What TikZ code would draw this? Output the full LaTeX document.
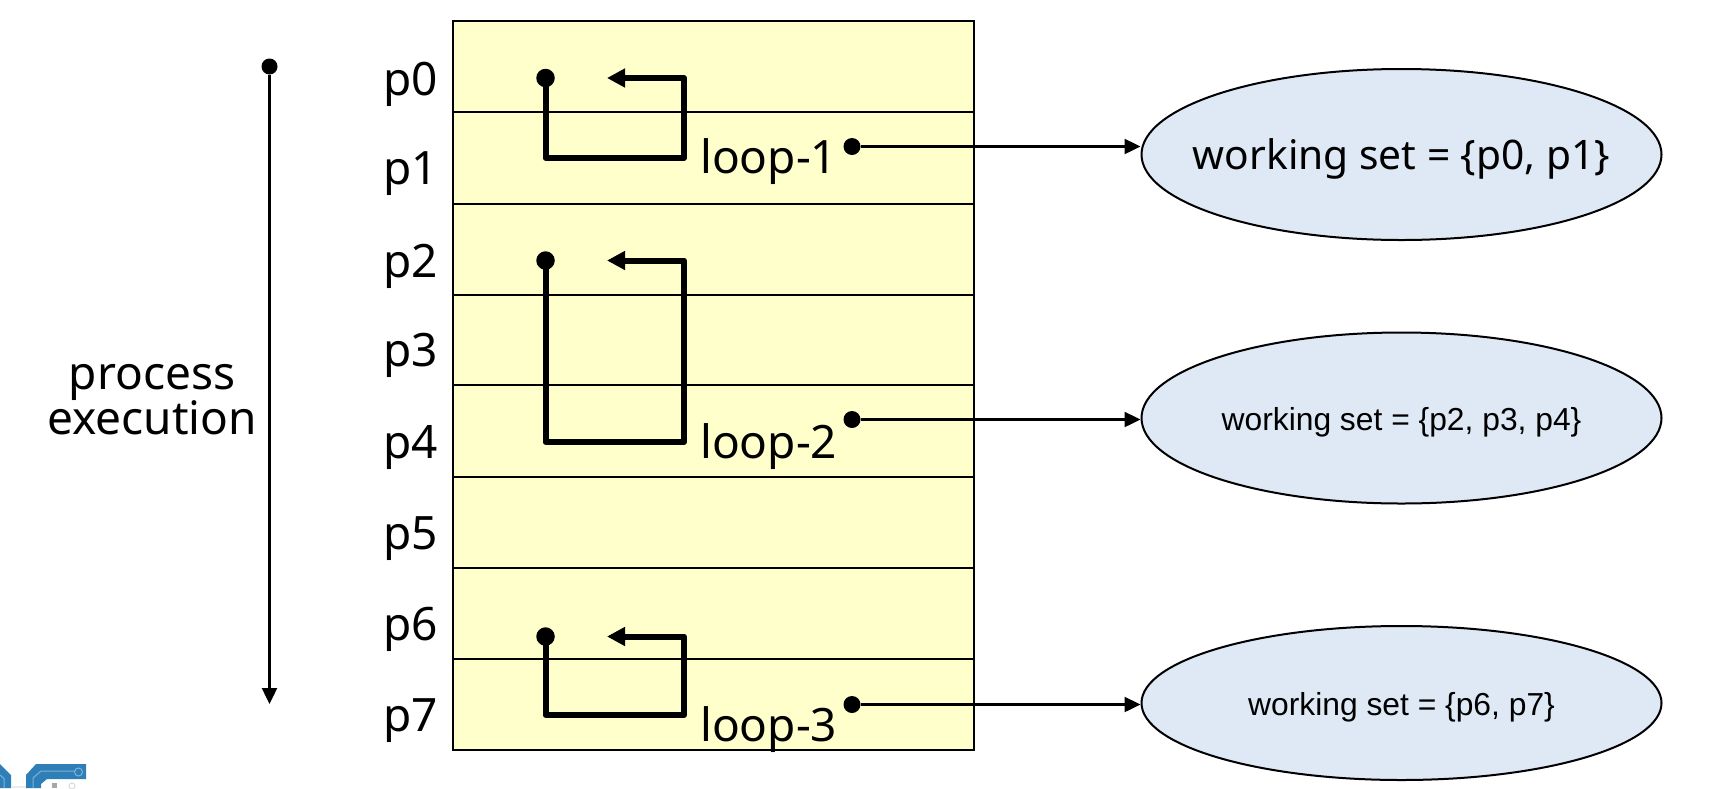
\documentclass[tikz,border=0pt]{standalone}
\usepackage{fontspec}
\setmainfont{Noto Sans}
\newfontfamily\smallfont{Liberation Sans}
\usetikzlibrary{shapes.geometric,arrows.meta}
\definecolor{memfill}{HTML}{FFFFCC}
\definecolor{setfill}{HTML}{DEE9F5}
\definecolor{logoblue}{HTML}{2E7FB8}
\definecolor{logoline}{HTML}{7FB2D8}
\tikzset{
  big/.style={font=\fontsize{46}{46}\selectfont,inner sep=0pt,anchor=base west},
  rowline/.style={line width=2pt,black},
  loopline/.style={line width=6pt,line join=round,-{Triangle[length=18pt,width=18pt]}},
  thin arrow/.style={line width=2.4pt,-{Triangle[length=16pt,width=15pt]}},
  dot/.style={circle,fill=black,inner sep=0pt,minimum size=18.5pt},
  wset/.style={ellipse,draw=black,line width=2pt,fill=setfill,inner sep=0pt,minimum width=520pt,text=black},
}
\newcommand{\wtext}[1]{\makebox[0pt]{#1}}
\begin{document}
\begin{tikzpicture}[x=1pt,y=-1pt]
\useasboundingbox (0,0) rectangle (1711,788);
% logo fragment
\fill[logoblue] (0,764) -- (11,775) -- (11,788) -- (0,788) -- cycle;
\draw[logoline,line width=1pt] (0,775) -- (4,778.5) -- (4,788);
\fill[black!8] (11,786) rectangle (26,788);
\fill[logoblue] (26,788) -- (26,775) -- (36,764) -- (86,764) -- (86,779) -- (47,779) -- (41,784) -- (41,788) -- cycle;
\draw[logoline,line width=1pt] (33,788) -- (33,778) -- (41,771) -- (75,771);
\draw[logoline,line width=1pt] (78.5,772) circle (4);
\fill[black!35] (52,783) rectangle (57,788);
\draw[black!15,line width=1pt] (72,786) circle (3);
% memory
\draw[rowline,fill=memfill] (453,21) rectangle (974,750);
\foreach \y in {112,204,294.5,385,477,567.5,659} \draw[rowline] (453,\y) -- (974,\y);
% row labels
\foreach \n/\y in {0/95,1/184,2/277,3/366,4/458,5/549,6/640,7/731}
  \node[big] (p\n) at (383,\y) {p\n};
% execution arrow
\node[dot,minimum size=16pt] (start) at (269.5,66.5) {};
\coordinate (end) at (269.5,704);
\draw[thin arrow] (start) -- (end);
\node[font=\fontsize{46}{45}\selectfont,align=center,inner sep=0pt] (pe) at (152,399.5) {process\\execution};
% loops
\foreach \n/\t/\b in {a/78/158,b/260.5/442,c/636.5/715}{
  \node[dot] (\n s) at (545.5,\t) {};
  \coordinate (\n e) at (607,\t);
  \draw[loopline] (\n s.center) -- (545.5,\b) -- (684,\b) -- (684,\t) -- (\n e);
}
\node[big] (l1) at (700,173) {loop-1};
\node[big] (l2) at (700,458) {loop-2};
\node[big] (l3) at (700,741) {loop-3};
% working sets
\node[wset,minimum height=171pt,font=\fontsize{40.7}{41}\selectfont,text height=30pt,text depth=0.2pt] (w1) at (1401.5,154.5) {\wtext{working set = \{p0, p1\}}};
\node[wset,minimum height=171pt,font=\smallfont\fontsize{31.8}{32}\selectfont,text height=25.2pt,text depth=0pt] (w2) at (1401.5,418) {\wtext{working set = \{p2, p3, p4\}}};
\node[wset,minimum height=154pt,font=\smallfont\fontsize{31.8}{32}\selectfont,text height=25.2pt,text depth=0pt] (w3) at (1401.5,703) {\wtext{working set = \{p6, p7\}}};
\node[dot,minimum size=17pt] (d1) at (852,146.5) {};
\node[dot,minimum size=17pt] (d2) at (852,419.5) {};
\node[dot,minimum size=17pt] (d3) at (852,704.5) {};
\draw[thin arrow] (d1) -- (d1 -| w1.west);
\draw[thin arrow] (d2) -- (d2 -| w2.west);
\draw[thin arrow] (d3) -- (d3 -| w3.west);
\end{tikzpicture}
\end{document}
